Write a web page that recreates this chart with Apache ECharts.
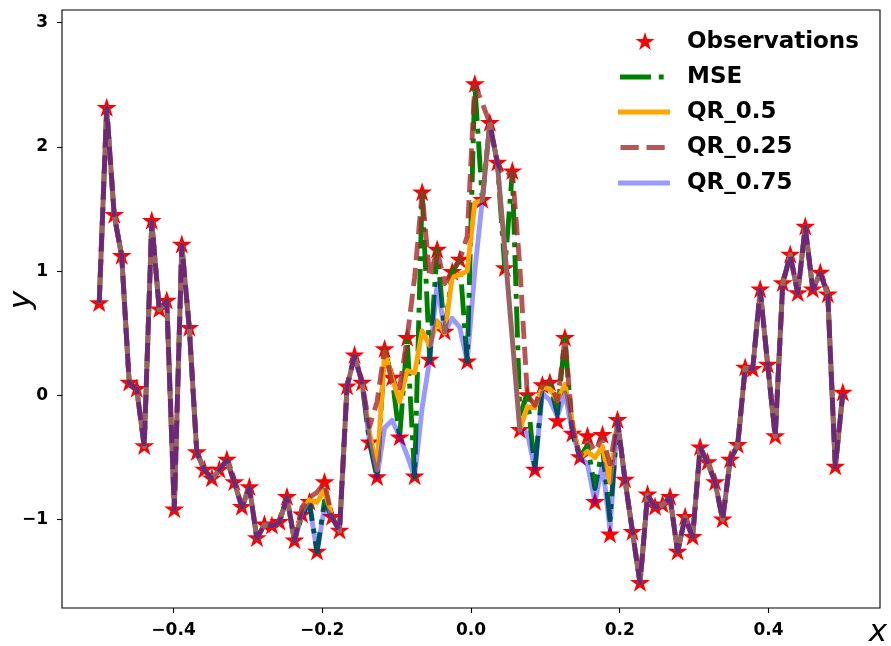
<!DOCTYPE html>
<html><head><meta charset="utf-8">
<script src="https://cdn.jsdelivr.net/npm/echarts@6/dist/echarts.min.js"></script>
<style>html,body{margin:0;padding:0;background:#fff}#c{width:891px;height:646px}</style>
</head><body><div id="c"></div>
<script>
const xValues = [-0.5,-0.4899,-0.4798,-0.4697,-0.4596,-0.4495,-0.4394,-0.4293,-0.4192,-0.4091,
-0.3990,-0.3889,-0.3788,-0.3687,-0.3586,-0.3485,-0.3384,-0.3283,-0.3182,-0.3081,
-0.2980,-0.2879,-0.2778,-0.2677,-0.2576,-0.2475,-0.2374,-0.2273,-0.2172,-0.2071,
-0.1970,-0.1869,-0.1768,-0.1667,-0.1566,-0.1465,-0.1364,-0.1263,-0.1162,-0.1061,
-0.0960,-0.0859,-0.0758,-0.0657,-0.0556,-0.0455,-0.0354,-0.0253,-0.0152,-0.0051,
0.0051,0.0152,0.0253,0.0354,0.0455,0.0556,0.0657,0.0758,0.0859,0.0960,
0.1061,0.1162,0.1263,0.1364,0.1465,0.1566,0.1667,0.1768,0.1869,0.1970,
0.2071,0.2172,0.2273,0.2374,0.2475,0.2576,0.2677,0.2778,0.2879,0.2980,
0.3081,0.3182,0.3283,0.3384,0.3485,0.3586,0.3687,0.3788,0.3889,0.3990,
0.4091,0.4192,0.4293,0.4394,0.4495,0.4596,0.4697,0.4798,0.4899,0.5];

const observations = [0.74,2.31,1.45,1.12,0.10,0.05,-0.41,1.40,0.69,0.76,
-0.92,1.21,0.54,-0.46,-0.60,-0.67,-0.60,-0.52,-0.70,-0.90,
-0.74,-1.15,-1.04,-1.05,-1.02,-0.82,-1.17,-0.96,-0.86,-1.26,
-0.70,-0.98,-1.09,0.07,0.32,0.10,-0.38,-0.66,0.37,0.14,
-0.34,0.46,-0.655,1.63,0.285,1.17,0.51,0.99,1.09,0.27,
2.50,1.57,2.19,1.87,1.02,1.80,-0.28,0.00,-0.60,0.08,
0.10,-0.21,0.46,-0.31,-0.50,-0.33,-0.86,-0.32,-1.12,-0.20,
-0.68,-1.10,-1.51,-0.80,-0.90,-0.88,-0.82,-1.26,-0.98,-1.14,
-0.42,-0.54,-0.70,-1.00,-0.52,-0.40,0.22,0.21,0.85,0.245,
-0.33,0.90,1.13,0.82,1.355,0.85,0.985,0.81,-0.575,0.02];

const predMSE = [0.74,2.31,1.45,1.12,0.10,0.05,-0.41,1.40,0.69,0.76,
-0.92,1.21,0.54,-0.46,-0.60,-0.67,-0.60,-0.52,-0.70,-0.90,
-0.74,-1.15,-1.04,-1.05,-1.02,-0.82,-1.17,-0.96,-0.86,-1.26,
-0.85,-0.98,-1.09,0.07,0.32,0.10,-0.38,-0.66,0.37,0.14,
-0.34,0.46,-0.655,1.63,0.285,1.17,0.51,0.99,1.09,0.27,
2.50,1.57,2.19,1.87,1.02,1.80,-0.15,0.00,-0.60,0.08,
0.10,-0.15,0.46,-0.31,-0.50,-0.40,-0.75,-0.42,-1.00,-0.20,
-0.68,-1.10,-1.51,-0.80,-0.90,-0.88,-0.82,-1.26,-0.98,-1.14,
-0.42,-0.54,-0.70,-1.00,-0.52,-0.40,0.22,0.21,0.85,0.245,
-0.33,0.90,1.13,0.82,1.355,0.85,0.985,0.81,-0.575,0.02];

const predQR50 = [0.74,2.31,1.45,1.12,0.10,0.05,-0.41,1.40,0.69,0.76,
-0.92,1.21,0.54,-0.46,-0.60,-0.67,-0.60,-0.52,-0.70,-0.90,
-0.74,-1.15,-1.04,-1.05,-1.02,-0.82,-1.17,-0.93,-0.84,-0.86,
-0.76,-0.98,-1.09,0.07,0.32,0.10,-0.30,-0.60,0.35,0.14,
-0.05,0.20,0.18,0.52,0.40,0.60,0.50,0.95,0.97,1.00,
1.55,1.57,2.19,1.87,1.17,0.45,-0.28,-0.09,-0.10,0.07,
0.05,-0.04,0.09,-0.22,-0.50,-0.45,-0.50,-0.41,-0.70,-0.20,
-0.68,-1.10,-1.51,-0.80,-0.90,-0.88,-0.82,-1.26,-0.98,-1.14,
-0.42,-0.54,-0.70,-1.00,-0.52,-0.40,0.22,0.21,0.85,0.245,
-0.33,0.90,1.13,0.82,1.355,0.85,0.985,0.81,-0.575,0.02];

const predQR25 = [0.74,2.31,1.45,1.12,0.10,0.05,-0.41,1.40,0.69,0.76,
-0.92,1.21,0.54,-0.46,-0.60,-0.67,-0.60,-0.52,-0.70,-0.90,
-0.74,-1.15,-1.04,-1.05,-1.02,-0.82,-1.17,-0.90,-0.82,-0.78,
-0.70,-0.98,-1.09,0.07,0.32,0.10,-0.25,-0.05,0.37,0.10,
0.06,0.46,0.95,1.63,0.95,1.17,0.90,1.00,1.09,1.28,
2.50,2.35,2.19,1.87,1.76,1.80,1.03,0.00,-0.08,0.08,
0.12,-0.05,0.46,-0.25,-0.50,-0.35,-0.45,-0.33,-0.55,-0.20,
-0.68,-1.10,-1.51,-0.80,-0.90,-0.88,-0.82,-1.26,-0.98,-1.14,
-0.42,-0.54,-0.70,-1.00,-0.52,-0.40,0.22,0.21,0.85,0.245,
-0.33,0.90,1.13,0.82,1.355,0.85,0.985,0.81,-0.575,0.02];

const predQR75 = [0.74,2.31,1.45,1.12,0.10,0.05,-0.41,1.40,0.69,0.76,
-0.92,1.21,0.54,-0.46,-0.60,-0.67,-0.60,-0.52,-0.70,-0.90,
-0.74,-1.15,-1.04,-1.05,-1.02,-0.82,-1.17,-0.96,-0.88,-1.26,
-0.90,-0.98,-1.09,0.07,0.32,0.10,-0.38,-0.66,-0.26,-0.20,
-0.33,-0.48,-0.655,-0.10,0.285,0.90,0.51,0.62,0.55,0.27,
1.00,1.57,2.19,1.87,1.17,0.45,-0.28,-0.30,-0.60,0.02,
-0.04,-0.17,0.02,-0.30,-0.50,-0.55,-0.86,-0.55,-1.08,-0.20,
-0.68,-1.10,-1.51,-0.80,-0.90,-0.88,-0.82,-1.26,-0.98,-1.14,
-0.42,-0.54,-0.70,-1.00,-0.52,-0.40,0.22,0.21,0.85,0.245,
-0.33,0.90,1.13,0.82,1.355,0.85,0.985,0.81,-0.575,0.02];

const xTicks = [-0.4, -0.2, 0.0, 0.2, 0.4];
const yTicks = [-1, 0, 1, 2, 3];
const legendNames = ['Observations', 'MSE', 'QR_0.5', 'QR_0.25', 'QR_0.75'];

const STAR = 'path://M100 0 L122.45 69.1 L195.11 69.1 L136.33 111.8 L158.78 180.9 L100 138.2 L41.22 180.9 L63.67 111.8 L4.89 69.1 L77.55 69.1 Z';

function pairs(ys) { return xValues.map((x, i) => [x, ys[i]]); }
function fmtX(v) { return (v < -1e-9 ? '\u2212' : '') + Math.abs(v).toFixed(1); }
function fmtY(v) { return (v < 0 ? '\u2212' : '') + Math.abs(v).toFixed(0); }
function starPoints(cx, cy, R, r) {
  const pts = [];
  for (let k = 0; k < 10; k++) {
    const a = k * Math.PI / 5;
    const rad = k % 2 === 0 ? R : r;
    pts.push([cx + rad * Math.sin(a), cy - rad * Math.cos(a)]);
  }
  return pts;
}

const LW = 4.9;
const styles = {
  mse: { color: '#008000', width: LW, type: [31, 7.8, 4.9, 7.8], cap: 'butt', join: 'round', opacity: 1 },
  q50: { color: '#ffa500', width: LW, type: 'solid', cap: 'butt', join: 'round', opacity: 1 },
  q25: { color: '#a52a2a', width: LW, type: [18.2, 7.8], cap: 'butt', join: 'round', opacity: 0.8 },
  q75: { color: '#0000ff', width: LW, type: 'solid', cap: 'butt', join: 'round', opacity: 0.4 }
};

const chart = echarts.init(document.getElementById('c'), null, { renderer: 'canvas' });
const tickFont = { fontFamily: 'DejaVu Sans', fontWeight: 'bold', fontSize: 17, color: '#000' };

function lineSeries(name, ys, st) {
  return { type: 'line', name: name, data: pairs(ys), symbol: 'none', showSymbol: false,
    lineStyle: st, silent: true, animation: false, z: 3 };
}

const legendRows = [42, 77, 112, 147.5, 183];
const legendGraphics = [];
legendGraphics.push({ type: 'polygon', shape: { points: starPoints(645, 42, 10, 3.82) }, style: { fill: '#ff0000' } });
legendGraphics.push({ type: 'line', shape: { x1: 620, y1: legendRows[1], x2: 670, y2: legendRows[1] }, style: { stroke: '#008000', lineWidth: LW, lineDash: [31, 7.8, 4.9, 7.8], lineCap: 'butt' } });
legendGraphics.push({ type: 'line', shape: { x1: 618, y1: legendRows[2], x2: 670, y2: legendRows[2] }, style: { stroke: '#ffa500', lineWidth: LW, lineCap: 'butt' } });
legendGraphics.push({ type: 'line', shape: { x1: 620.5, y1: legendRows[3], x2: 670, y2: legendRows[3] }, style: { stroke: '#a52a2a', opacity: 0.8, lineWidth: LW, lineDash: [18.2, 7.8], lineCap: 'butt' } });
legendGraphics.push({ type: 'line', shape: { x1: 618, y1: legendRows[4], x2: 670, y2: legendRows[4] }, style: { stroke: '#0000ff', opacity: 0.4, lineWidth: LW, lineCap: 'butt' } });
legendNames.forEach((n, i) => {
  legendGraphics.push({ type: 'text', x: 687, y: legendRows[i], style: { text: n, fill: '#000', font: 'bold 23px "DejaVu Sans"', verticalAlign: 'middle', align: 'left' } });
});
legendGraphics.push({ type: 'text', x: 878, y: 633, style: { text: 'x', fill: '#000', font: 'italic 31px "DejaVu Sans"', verticalAlign: 'middle', align: 'center' } });
legendGraphics.push({ type: 'text', x: 22, y: 300, rotation: Math.PI / 2, style: { text: 'y', fill: '#000', font: 'italic 31px "DejaVu Sans"', verticalAlign: 'middle', align: 'center' } });

chart.setOption({
  animation: false,
  backgroundColor: '#ffffff',
  grid: { left: 62, top: 10, width: 818, height: 598, show: true, borderColor: '#000', borderWidth: 1.1, backgroundColor: 'transparent' },
  xAxis: {
    type: 'value', min: -0.55, max: 0.55, position: 'bottom',
    axisLine: { show: false, onZero: false },
    splitLine: { show: false },
    axisTick: { show: true, customValues: xTicks, length: 5, lineStyle: { color: '#000', width: 1.1 } },
    axisLabel: { customValues: xTicks, formatter: fmtX, margin: 14, ...tickFont }
  },
  yAxis: {
    type: 'value', min: -1.71, max: 3.10, position: 'left',
    axisLine: { show: false, onZero: false },
    splitLine: { show: false },
    axisTick: { show: true, customValues: yTicks, length: 5, lineStyle: { color: '#000', width: 1.1 } },
    axisLabel: { customValues: yTicks, formatter: fmtY, margin: 14, ...tickFont }
  },
  series: [
    { type: 'scatter', name: 'Observations', data: pairs(observations), symbol: STAR, symbolSize: [20, 19], symbolOffset: [0, -1],
      itemStyle: { color: '#ff0000', opacity: 1 }, silent: true, animation: false, z: 2 },
    lineSeries('MSE', predMSE, styles.mse),
    lineSeries('QR_0.5', predQR50, styles.q50),
    lineSeries('QR_0.25', predQR25, styles.q25),
    lineSeries('QR_0.75', predQR75, styles.q75)
  ],
  graphic: { elements: legendGraphics }
});
</script>
</body></html>
